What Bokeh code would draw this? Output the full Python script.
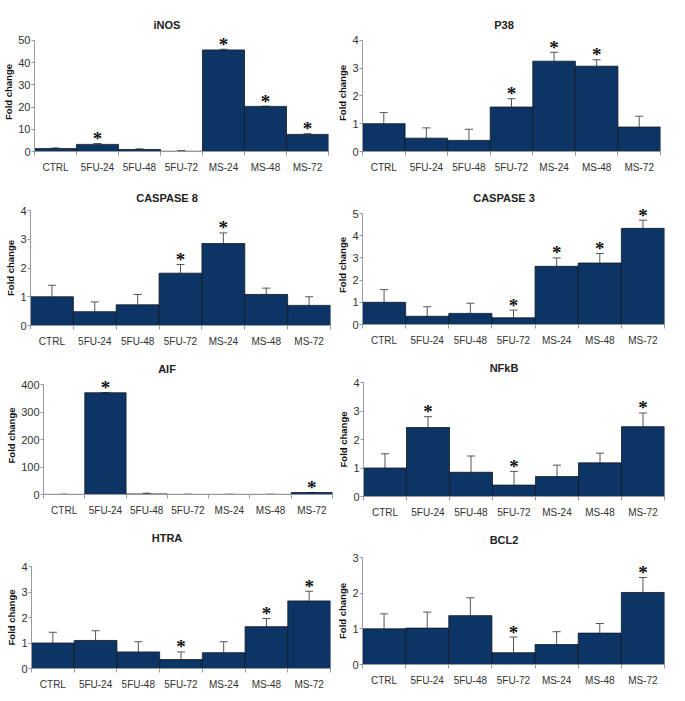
from bokeh.plotting import figure
from bokeh.layouts import column, row
from bokeh.models import ColumnDataSource, FixedTicker, Whisker, TeeHead, LabelSet, Div
from bokeh.embed import file_html
from bokeh.resources import INLINE

categories = ["CTRL", "5FU-24", "5FU-48", "5FU-72", "MS-24", "MS-48", "MS-72"]

inos_vals = [1.3, 3.2, 0.9, 0.1, 45.7, 20.3, 7.7]
inos_err = [0.3, 0.4, 0.3, 0.3, 0.3, 0.1, 0.3]
inos_sig = [0, 1, 0, 0, 1, 1, 1]

p38_vals = [1.0, 0.48, 0.40, 1.60, 3.25, 3.07, 0.88]
p38_err = [0.40, 0.37, 0.40, 0.30, 0.32, 0.23, 0.39]
p38_sig = [0, 0, 0, 1, 1, 1, 0]

casp8_vals = [1.0, 0.48, 0.72, 1.82, 2.85, 1.08, 0.70]
casp8_err = [0.40, 0.34, 0.36, 0.30, 0.37, 0.22, 0.30]
casp8_sig = [0, 0, 0, 1, 1, 0, 0]

casp3_vals = [1.0, 0.37, 0.50, 0.30, 2.62, 2.77, 4.33]
casp3_err = [0.57, 0.43, 0.46, 0.35, 0.38, 0.43, 0.37]
casp3_sig = [0, 0, 0, 1, 1, 1, 1]

aif_vals = [0.5, 370.0, 2.0, 0.5, 0.5, 0.5, 7.0]
aif_err = [0.5, 0.5, 3.0, 0.5, 0.5, 0.5, 0.5]
aif_sig = [0, 1, 0, 0, 0, 0, 1]

nfkb_vals = [1.0, 2.42, 0.85, 0.40, 0.70, 1.18, 2.45]
nfkb_err = [0.50, 0.38, 0.57, 0.48, 0.40, 0.34, 0.48]
nfkb_sig = [0, 1, 0, 1, 0, 0, 1]

htra_vals = [1.0, 1.10, 0.65, 0.35, 0.62, 1.64, 2.65]
htra_err = [0.42, 0.38, 0.40, 0.30, 0.43, 0.32, 0.38]
htra_sig = [0, 0, 0, 1, 0, 1, 1]

bcl2_vals = [1.0, 1.02, 1.37, 0.33, 0.56, 0.88, 2.02]
bcl2_err = [0.42, 0.45, 0.50, 0.44, 0.36, 0.27, 0.42]
bcl2_sig = [0, 0, 0, 1, 0, 0, 1]

panels = [
    ("iNOS", inos_vals, inos_err, inos_sig, [0, 10, 20, 30, 40, 50]),
    ("P38", p38_vals, p38_err, p38_sig, [0, 1, 2, 3, 4]),
    ("CASPASE 8", casp8_vals, casp8_err, casp8_sig, [0, 1, 2, 3, 4]),
    ("CASPASE 3", casp3_vals, casp3_err, casp3_sig, [0, 1, 2, 3, 4, 5]),
    ("AIF", aif_vals, aif_err, aif_sig, [0, 100, 200, 300, 400]),
    ("NFkB", nfkb_vals, nfkb_err, nfkb_sig, [0, 1, 2, 3, 4]),
    ("HTRA", htra_vals, htra_err, htra_sig, [0, 1, 2, 3, 4]),
    ("BCL2", bcl2_vals, bcl2_err, bcl2_sig, [0, 1, 2, 3]),
]

# layout: target frame boxes (left, right, top-tick, zero line) in page px,
# wanted headroom above the top tick for stars, title centre (page px)
frames = [
    (30, 328, 40, 153), (362, 660, 40, 154),
    (30, 330, 210, 325), (362, 664, 213, 324),
    (43, 332, 384, 494), (363, 664, 382, 496),
    (31, 330, 566, 668), (361, 664, 557, 664),
]
headroom = [8, 6, 0, 10, 9, 0, 0, 0]
title_y = [25, 25, 198, 198, 369, 368, 538, 540]
cols = [(0, 334), (334, 684)]
title_w = [334, 340]
rows_y = [(0, 175), (175, 350), (350, 525), (525, 700)]
TITLE_H = 14

BAR = "#0c3566"
FONT = "Liberation Sans"

cells = []
for i, (title, vals, errs, sig, yticks) in enumerate(panels):
    c0, c1 = cols[i % 2]
    r0, r1 = rows_y[i // 2]
    fl, fr, ft, fb = frames[i]
    t_top = title_y[i] - r0 - TITLE_H // 2
    fig_top = r0 + t_top + TITLE_H
    ext = max(0, min(headroom[i], ft - fig_top))
    top_tick = yticks[-1]
    fh = fb - ft
    y_end = top_tick * (fh + ext) / fh

    head = Div(text=title, width=title_w[i % 2], height=TITLE_H,
               margin=(t_top, 0, 0, 0),
               styles={"text-align": "center", "font-family": FONT,
                       "font-size": "11px", "font-weight": "bold",
                       "line-height": f"{TITLE_H}px", "color": "#222222",
                       "overflow": "visible"})

    xs = list(range(len(categories)))
    tops = [v + e for v, e in zip(vals, errs)]
    src = ColumnDataSource(dict(
        x=xs, cat=categories, val=vals, top=tops,
        star=["*" if s else "" for s in sig],
    ))
    p = figure(width=c1 - c0, height=r1 - fig_top,
               output_backend="svg",
               toolbar_location=None, x_range=(-0.5, 6.5),
               y_range=(0, y_end),
               min_border_left=fl - c0, min_border_right=max(0, c1 - fr),
               min_border_top=ft - ext - fig_top, min_border_bottom=r1 - fb)
    p.outline_line_color = None
    p.grid.visible = False
    p.background_fill_color = "white"
    p.border_fill_color = "white"

    p.vbar(x="x", top="val", bottom=0, width=1.0, source=src,
           fill_color=BAR, line_color="#101820", line_width=0.8)
    w = Whisker(base="x", lower="val", upper="top", source=src,
                line_color="#555555", line_width=1,
                upper_head=TeeHead(size=8, line_color="#555555", line_width=1),
                lower_head=None)
    p.add_layout(w)
    stars = LabelSet(x="x", y="top", text="star", source=src,
                     text_align="center", text_baseline="middle",
                     y_offset=5, text_font=FONT, text_font_size="19px",
                     text_font_style="bold", text_color="#111111")
    p.add_layout(stars)

    xa = p.xaxis[0]
    xa.ticker = FixedTicker(ticks=xs, minor_ticks=[x - 0.5 for x in xs] + [6.5])
    xa.major_label_overrides = {x: c for x, c in zip(xs, categories)}
    xa.major_tick_line_color = None
    xa.major_tick_out = 0
    xa.major_tick_in = 0
    xa.minor_tick_in = 0
    xa.minor_tick_out = 4
    xa.minor_tick_line_color = "#999999"
    xa.axis_line_color = "#999999"
    xa.major_label_text_font = FONT
    xa.major_label_text_font_size = "10px"
    xa.major_label_text_color = "#333333"
    xa.major_label_standoff = 6

    ya = p.yaxis[0]
    ya.ticker = FixedTicker(ticks=yticks)
    ya.bounds = (0, top_tick)
    ya.minor_tick_line_color = None
    ya.major_tick_in = 0
    ya.major_tick_out = 3
    ya.major_tick_line_color = "#999999"
    ya.axis_line_color = "#999999"
    ya.major_label_text_font = FONT
    ya.major_label_text_font_size = "11px"
    ya.major_label_text_color = "#333333"
    ya.major_label_standoff = 1
    ya.axis_label = "Fold change"
    ya.axis_label_text_font = FONT
    ya.axis_label_text_font_size = "9.5px"
    ya.axis_label_text_font_style = "bold"
    ya.axis_label_text_color = "#111111"
    ya.axis_label_standoff = 1
    cells.append(column(head, p, spacing=0))

layout = column(*[row(cells[2 * k], cells[2 * k + 1], spacing=0) for k in range(4)],
                spacing=0)
open("out.html", "w").write(file_html(layout, INLINE))
